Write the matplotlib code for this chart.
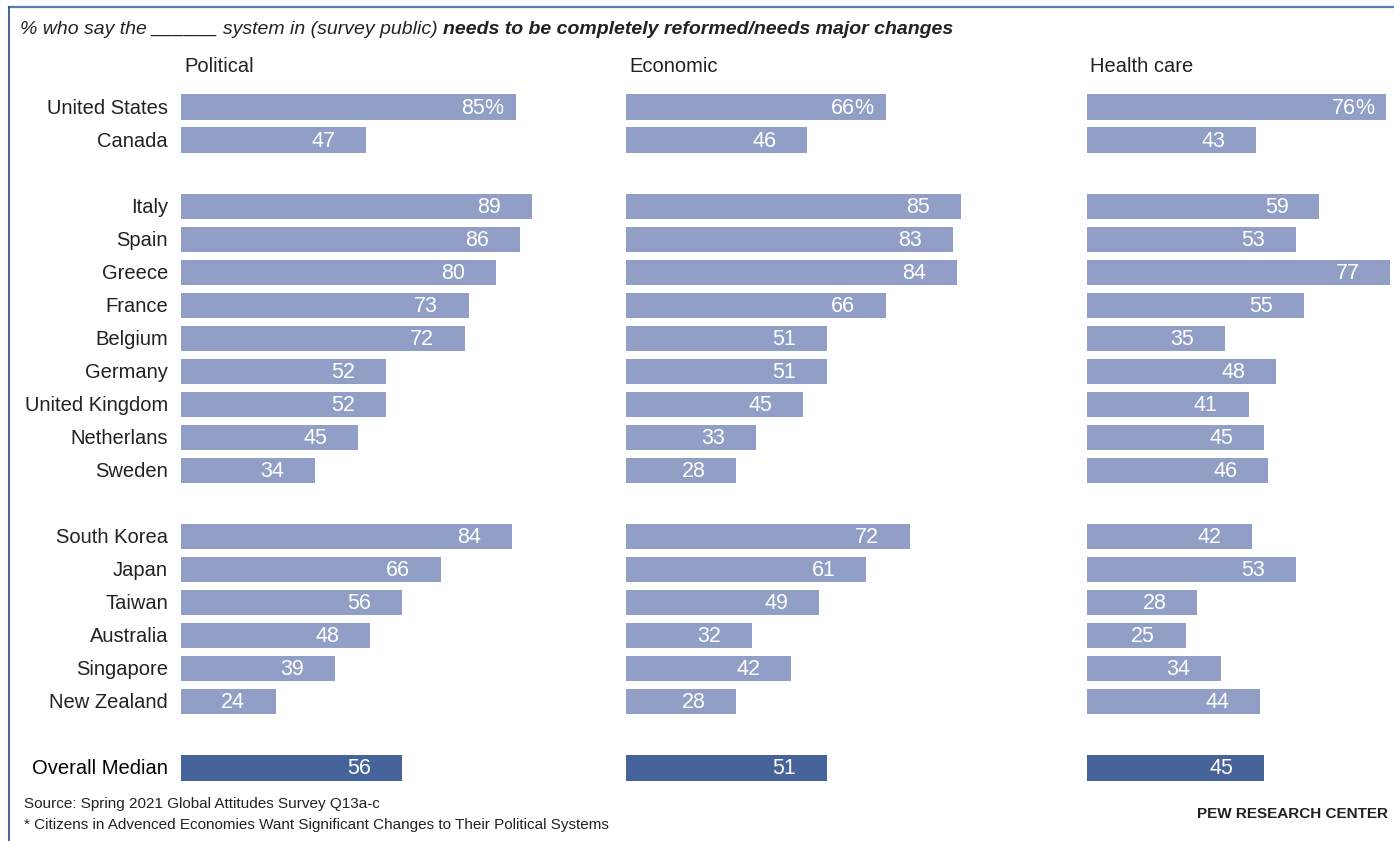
import matplotlib.pyplot as plt
from matplotlib.lines import Line2D

plt.rcParams['font.family'] = ['Liberation Sans', 'DejaVu Sans']

countries = ["United States", "Canada", "Italy", "Spain", "Greece", "France", "Belgium",
             "Germany", "United Kingdom", "Netherlans", "Sweden", "South Korea", "Japan",
             "Taiwan", "Australia", "Singapore", "New Zealand", "Overall Median"]
political = [85, 47, 89, 86, 80, 73, 72, 52, 52, 45, 34, 84, 66, 56, 48, 39, 24, 56]
economic = [66, 46, 85, 83, 84, 66, 51, 51, 45, 33, 28, 72, 61, 49, 32, 42, 28, 51]
health = [76, 43, 59, 53, 77, 55, 35, 48, 41, 45, 46, 42, 53, 28, 25, 34, 44, 45]
panels = ["Political", "Economic", "Health care"]

# row slots, with empty slots between the regional groups
pos = [0, 1, 3, 4, 5, 6, 7, 8, 9, 10, 11, 13, 14, 15, 16, 17, 18, 20]

W, H = 1394, 841
PX = 3.94  # pixels per percentage point
LIGHT = '#919fc6'
DARK = '#46639a'
TXT = '#222222'

fig = plt.figure(figsize=(W / 100, H / 100), dpi=100)

pitch = 33.05
y0 = 107
top_px, bot_px = 90, 784
ylo = (top_px - y0) / pitch
yhi = (bot_px - y0) / pitch


def make_ax(x0_px, width_px):
    ax = fig.add_axes([x0_px / W, 1 - bot_px / H, width_px / W, (bot_px - top_px) / H])
    ax.set_xlim(0, width_px / PX)
    ax.set_ylim(yhi, ylo)
    ax.axis('off')
    return ax


starts = [181, 626, 1087]
widths = [430, 430, 307]
series = [political, economic, health]

for x0, w, vals, name in zip(starts, widths, series, panels):
    ax = make_ax(x0, w)
    colors = [LIGHT] * (len(vals) - 1) + [DARK]
    ax.barh(pos, vals, height=0.76, color=colors, clip_on=False)
    for i, (p, v) in enumerate(zip(pos, vals)):
        ax.annotate(str(v), (v, p), xytext=(-31, -1), textcoords='offset pixels',
                    ha='right', va='center', color='white', fontsize=15.5)
        if i == 0:
            ax.annotate('%', (v, p), xytext=(-31.5, -1), textcoords='offset pixels',
                        ha='left', va='center', color='white', fontsize=15.5)
    fig.text((x0 + 3) / W, 1 - 66 / H, name, ha='left', va='center',
             fontsize=14.5, color=TXT)

for c, p in zip(countries, pos):
    yp = y0 + p * pitch
    fig.text(168 / W, 1 - (yp + 1) / H, c, ha='right', va='center', fontsize=14.5,
             color='black' if c == "Overall Median" else TXT)

t1 = fig.text(20 / W, 1 - 29 / H, "% who say the ______ system in (survey public) ",
              ha='left', va='center', fontsize=14, style='italic', color=TXT)
fig.canvas.draw()
bb = t1.get_window_extent()
fig.text(bb.x1 / W, 1 - 29 / H, "needs to be completely reformed/needs major changes",
         ha='left', va='center', fontsize=14, style='italic', weight='bold', color=TXT)

fig.text(24 / W, 1 - 804 / H, "Source: Spring 2021 Global Attitudes Survey Q13a-c",
         ha='left', va='center', fontsize=11, color=TXT)
fig.text(24 / W, 1 - 825 / H,
         "* Citizens in Advenced Economies Want Significant Changes to Their Political Systems",
         ha='left', va='center', fontsize=11, color=TXT)
fig.text(1388 / W, 1 - 814 / H, "PEW RESEARCH CENTER", ha='right', va='center',
         fontsize=11, weight='bold', color=TXT)

fig.add_artist(Line2D([9 / W, 1], [1 - 7 / H, 1 - 7 / H], color='#5a7db0', lw=1.6))
fig.add_artist(Line2D([9 / W, 9 / W], [0, 1 - 7 / H], color='#2a4a85', lw=1.2))

fig.savefig('out.png', dpi=100)
